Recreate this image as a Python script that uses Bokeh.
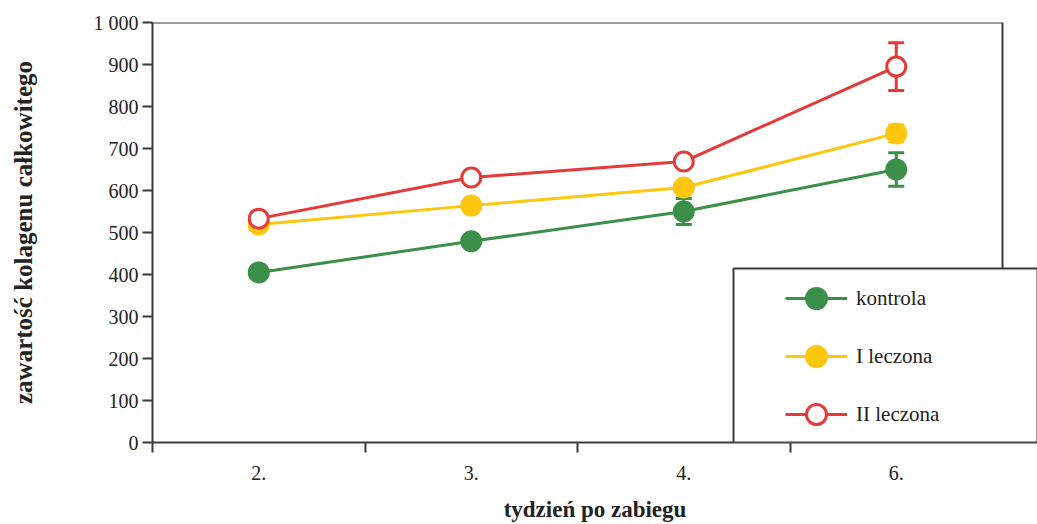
from bokeh.plotting import figure
from bokeh.models import (FixedTicker, Range1d, Legend, LegendItem, Whisker,
                          ColumnDataSource, BoxAnnotation, TeeHead)
from bokeh.embed import file_html
from bokeh.resources import INLINE

# ---- data ----
weeks = ["2.", "3.", "4.", "6."]
kontrola = [405, 479, 550, 650]
kontrola_err = [8, 8, 31, 40]
leczona1 = [519, 564, 607, 736]
leczona1_err = [8, 8, 8, 20]
leczona2 = [533, 631, 669, 895]
leczona2_err = [8, 8, 8, 57]
y_ticks = [0, 100, 200, 300, 400, 500, 600, 700, 800, 900, 1000]
legend_top_value = 414

GREEN = "#3b8f48"
YELLOW = "#fdc70e"
RED = "#e63a3a"
AXIS = "#3a3a3a"
FONT = "Liberation Serif"

W, H = 1037, 524
LEFT, TOP, BOTTOM = 152, 22, 82
n = len(weeks)
frame_w = W - LEFT
x_end = n * frame_w / 850.0
xs = [i + 0.5 for i in range(n)]

p = figure(width=W, height=H, output_backend="svg", toolbar_location=None,
           x_range=Range1d(0, x_end), y_range=Range1d(0, 1000),
           min_border_left=LEFT, min_border_right=0, min_border_top=TOP,
           min_border_bottom=BOTTOM)
p.outline_line_color = None
p.grid.visible = False
p.background_fill_color = "white"

# frame top/right border
p.line(x=[0, n, n], y=[1000, 1000, 0], line_color=AXIS, line_width=2)

# x axis
xa = p.xaxis[0]
xa.ticker = FixedTicker(ticks=xs, minor_ticks=list(range(n)))
xa.major_label_overrides = {x: w for x, w in zip(xs, weeks)}
xa.major_tick_out = 0
xa.major_tick_in = 0
xa.minor_tick_out = 10
xa.minor_tick_in = 0
xa.minor_tick_line_color = AXIS
xa.minor_tick_line_width = 2
xa.axis_line_color = AXIS
xa.axis_line_width = 2
xa.major_label_standoff = 13
xa.major_label_text_font = FONT
xa.major_label_text_font_size = "20px"
xa.major_label_text_color = "#222222"
xa.axis_label = "tydzień po zabiegu"
xa.axis_label_text_font = FONT
xa.axis_label_text_font_style = "bold"
xa.axis_label_text_font_size = "23px"
xa.axis_label_text_color = "#222222"
xa.axis_label_standoff = 14

# y axis
ya = p.yaxis[0]
ya.ticker = FixedTicker(ticks=y_ticks, minor_ticks=[])
ya.major_label_overrides = {1000: "1 000"}
ya.major_tick_out = 10
ya.major_tick_in = 0
ya.major_tick_line_color = AXIS
ya.major_tick_line_width = 2
ya.axis_line_color = AXIS
ya.axis_line_width = 2
ya.major_label_standoff = 4
ya.major_label_text_font = FONT
ya.major_label_text_font_size = "20px"
ya.major_label_text_color = "#222222"
ya.axis_label = "zawartość kolagenu całkowitego"
ya.axis_label_text_font = FONT
ya.axis_label_text_font_style = "bold"
ya.axis_label_text_font_size = "25px"
ya.axis_label_text_color = "#222222"
ya.axis_label_standoff = 54

series = [
    ("kontrola", kontrola, kontrola_err, GREEN, GREEN),
    ("I leczona", leczona1, leczona1_err, YELLOW, YELLOW),
    ("II leczona", leczona2, leczona2_err, RED, "white"),
]

items = []
for name, vals, errs, col, fill in series:
    src = ColumnDataSource(dict(x=xs, y=vals,
                                upper=[v + e for v, e in zip(vals, errs)],
                                lower=[v - e for v, e in zip(vals, errs)]))
    wk = Whisker(base="x", upper="upper", lower="lower", source=src,
                 line_color=col, line_width=3,
                 upper_head=TeeHead(size=16, line_color=col, line_width=3),
                 lower_head=TeeHead(size=16, line_color=col, line_width=3))
    p.add_layout(wk)
    ln = p.line("x", "y", source=src, line_color=col, line_width=3)
    sc = p.scatter("x", "y", source=src, size=19, fill_color=fill,
                   line_color=col, line_width=3)
    items.append(LegendItem(label=name, renderers=[ln, sc]))

box = BoxAnnotation(left=(733 - 152) / 212.5, bottom=0, top=legend_top_value,
                    fill_color="white", fill_alpha=1.0,
                    line_color=AXIS, line_width=2, line_alpha=1.0)
p.add_layout(box)

legend = Legend(items=items, location=(633, 3), orientation="vertical",
                glyph_width=62, glyph_height=50, label_height=50,
                spacing=8, padding=0, margin=0, label_standoff=9,
                border_line_color=None, background_fill_alpha=0,
                label_text_font=FONT, label_text_font_size="21px",
                label_text_color="#222222")
p.add_layout(legend, "center")

open("out.html", "w").write(file_html(p, INLINE))
